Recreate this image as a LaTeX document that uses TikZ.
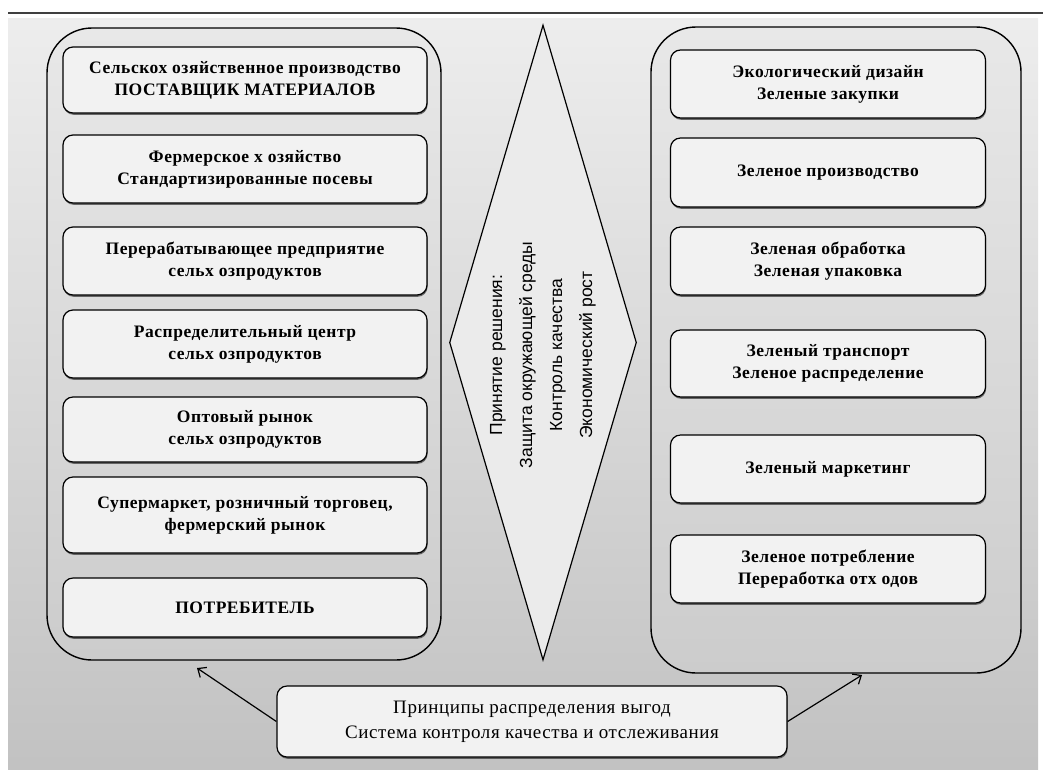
\documentclass[tikz,border=0pt]{standalone}
\usepackage{fontspec}
\setmainfont[LetterSpace=3]{Liberation Serif}
\newfontfamily\diafont{Liberation Sans}
\usetikzlibrary{shapes.geometric,arrows.meta,shadows}

\begin{document}
\begin{tikzpicture}[x=1pt,y=-1pt,
	frame/.style={draw,rounded corners=45pt,line width=1.4pt,top color=black!9,bottom color=black!20},
	box/.style={draw,rectangle,rounded corners=10pt,line width=1.2pt,inner sep=0pt,align=center,
		fill=black!5,
		drop shadow={shadow xshift=0.6pt,shadow yshift=-1.8pt,opacity=0.7,fill=black!80},
		font=\fontsize{17.5}{22}\selectfont\bfseries},
	lbox/.style={box,minimum width=364pt},
	rbox/.style={box,minimum width=315pt},
	dia/.style={draw,diamond,line width=1.2pt,inner sep=0pt},
	arr/.style={-{Straight Barb[length=7pt,width=12pt]},line width=1.2pt}]
			\useasboundingbox (0,0) rectangle (1043,769);
			\fill[top color=black!7,bottom color=black!24] (8,18) rectangle (1038,769);
			\draw[line width=1.6pt,black!75] (8,13) -- (1043,13);
			\node[frame,minimum width=394pt,minimum height=632pt] (f1) at (244,344){};
			\node[frame,minimum width=370pt,minimum height=646pt] (f2) at (836,350){};
			\node[dia,fill=black!8,minimum width=635pt,minimum height=187pt,rotate=90] (d1) at (543,342.5){};
			\node[rotate=90,align=center,font=\diafont\fontsize{17.5}{30}\selectfont] (t1) at (543,355){Принятие решения:\\Защита окружающей среды\\Контроль качества\\Экономический рост};
			% left column
			\node[lbox,minimum height=66pt] (l1) at (245,80){Сельскох озяйственное производство\\ПОСТАВЩИК МАТЕРИАЛОВ};
			\node[lbox,minimum height=68pt] (l2) at (245,169){Фермерское х озяйство\\Стандартизированные посевы};
			\node[lbox,minimum height=68pt] (l3) at (245,261){Перерабатывающее предприятие\\сельх озпродуктов};
			\node[lbox,minimum height=68pt] (l4) at (245,344){Распределительный центр\\сельх озпродуктов};
			\node[lbox,minimum height=65pt] (l5) at (245,429.5){Оптовый рынок\\сельх озпродуктов};
			\node[lbox,minimum height=76pt] (l6) at (245,515){Супермаркет, розничный торговец,\\фермерский рынок};
			\node[lbox,minimum height=59pt] (l7) at (245,607.5){ПОТРЕБИТЕЛЬ};
			% right column
			\node[rbox,minimum height=68pt] (r1) at (828,84){Экологический дизайн\\Зеленые закупки};
			\node[rbox,minimum height=69pt] (r2) at (828,172.5){Зеленое производство};
			\node[rbox,minimum height=68pt] (r3) at (828,261){Зеленая обработка\\Зеленая упаковка};
			\node[rbox,minimum height=67pt] (r4) at (828,363.5){Зеленый транспорт\\Зеленое распределение};
			\node[rbox,minimum height=68pt] (r5) at (828,469){Зеленый маркетинг};
			\node[rbox,minimum height=68pt] (r6) at (828,569){Зеленое потребление\\Переработка отх одов};
			% bottom
			\node[box,font=\fontsize{19}{25}\selectfont,minimum width=510pt,minimum height=71pt] (b1) at (532,721.5){Принципы распределения выгод\\Система контроля качества и отслеживания};
			\coordinate (c1) at (197,668);
			\coordinate (c2) at (862,675);
			\draw[arr] (b1.west) -- (c1);
			\draw[arr] (b1.east) -- (c2);
		\end{tikzpicture}
\end{document}
